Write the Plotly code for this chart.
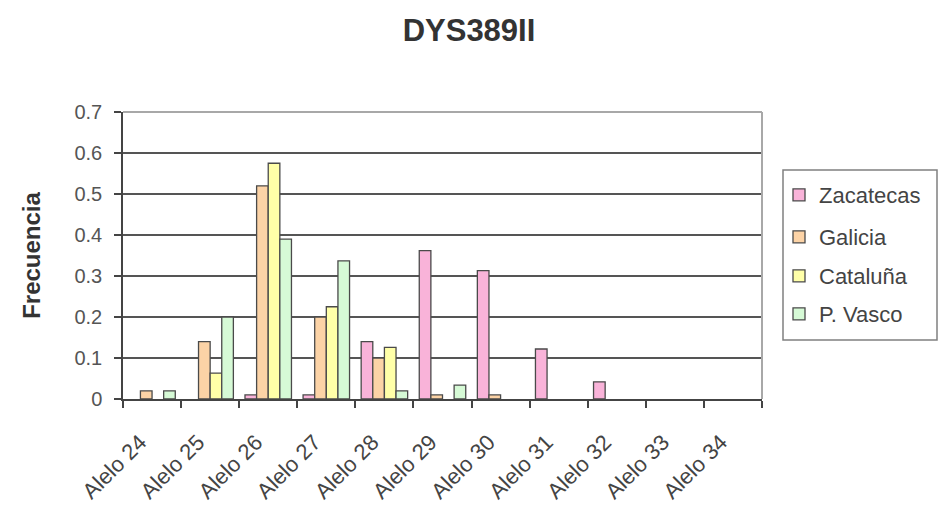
import plotly.graph_objects as go

# Allele frequencies at the DYS389II locus for four populations
categories = ["Alelo 24", "Alelo 25", "Alelo 26", "Alelo 27", "Alelo 28", "Alelo 29",
              "Alelo 30", "Alelo 31", "Alelo 32", "Alelo 33", "Alelo 34"]
zacatecas = [0, 0, 0.01, 0.01, 0.14, 0.362, 0.313, 0.122, 0.042, 0, 0]
galicia = [0.02, 0.14, 0.52, 0.20, 0.10, 0.01, 0.01, 0, 0, 0, 0]
cataluna = [0, 0.063, 0.575, 0.225, 0.126, 0, 0, 0, 0, 0, 0]
pvasco = [0.02, 0.20, 0.39, 0.337, 0.02, 0.034, 0, 0, 0, 0, 0]

series_names = ["Zacatecas", "Galicia", "Cataluña", "P. Vasco"]
series_values = [zacatecas, galicia, cataluna, pvasco]
series_colors = ["#F9B3D9", "#FCD3A6", "#FFFFA8", "#D6FAD6"]

FONT = "Liberation Sans, Arial, sans-serif"

# plot area in pixels: x 123..762, y 112..399
PLOT_L, PLOT_R, PLOT_T, PLOT_B = 123, 762, 112, 399


def px_to_paper_x(px):
    return (px - PLOT_L) / (PLOT_R - PLOT_L)


def px_to_paper_y(py):
    return (PLOT_B - py) / (PLOT_B - PLOT_T)


legend_ids = ["legend", "legend2", "legend3", "legend4"]
legend_rows = [195, 237, 276, 314]

fig = go.Figure()
for name, vals, col, lid in zip(series_names, series_values, series_colors, legend_ids):
    fig.add_trace(go.Bar(
        x=categories,
        # empty frequencies leave no bar at all
        y=[v if v > 0 else None for v in vals],
        name=name, legend=lid, showlegend=True,
        marker=dict(color=col, line=dict(color="#4a4a4a", width=1.3)),
    ))

legend_style = dict(xanchor="left", yanchor="middle", borderwidth=0,
                    bgcolor="rgba(0,0,0,0)", itemwidth=30,
                    font=dict(size=22, color="#444444", family=FONT))
legends = {}
for lid, row in zip(legend_ids, legend_rows):
    legends[lid] = dict(x=px_to_paper_x(779), y=px_to_paper_y(row), **legend_style)

fig.update_layout(
    width=938, height=508, autosize=False, showlegend=True,
    margin=dict(l=PLOT_L, r=938 - PLOT_R, t=PLOT_T, b=508 - PLOT_B),
    paper_bgcolor="white", plot_bgcolor="white",
    barmode="group", bargap=0.2, bargroupgap=0,
    font=dict(family=FONT, color="#444444"),
    title=dict(text="<b>DYS389II</b>", x=0.5, xref="container", xanchor="center",
               y=1 - 30 / 508, yref="container", yanchor="middle",
               font=dict(size=31, color="#333333", family=FONT)),
    xaxis=dict(type="category", tickson="boundaries", ticks="outside", ticklen=7,
               tickcolor="#444444", tickwidth=1.5, tickangle=-45,
               ticklabelshift=-12, ticklabelstandoff=20, automargin=False,
               tickfont=dict(size=22, color="#444444", family=FONT),
               showline=True, linecolor="#444444", linewidth=1.5, showgrid=False),
    yaxis=dict(range=[0, 0.7], dtick=0.1, ticks="outside", ticklen=7,
               tickcolor="#444444", tickwidth=1.5, ticklabelstandoff=8,
               automargin=False,
               tickfont=dict(size=20, color="#555555", family=FONT),
               showline=True, linecolor="#444444", linewidth=1.5,
               showgrid=True, gridcolor="#555555", gridwidth=1.6, zeroline=False,
               title=dict(text="<b>Frecuencia</b>", standoff=27,
                          font=dict(size=24, color="#333333", family=FONT))),
    shapes=[
        # plot-area frame on top and right
        dict(type="line", xref="paper", yref="paper", x0=0, x1=1, y0=1, y1=1,
             line=dict(color="#a8a8a8", width=2), layer="above"),
        dict(type="line", xref="paper", yref="paper", x0=1, x1=1, y0=0, y1=1,
             line=dict(color="#a8a8a8", width=2), layer="above"),
        # legend frame
        dict(type="rect", xref="paper", yref="paper",
             x0=px_to_paper_x(783), x1=px_to_paper_x(937),
             y0=px_to_paper_y(340), y1=px_to_paper_y(170),
             line=dict(color="#808080", width=1.5)),
    ],
    **legends,
)

fig.write_html("out.html")
